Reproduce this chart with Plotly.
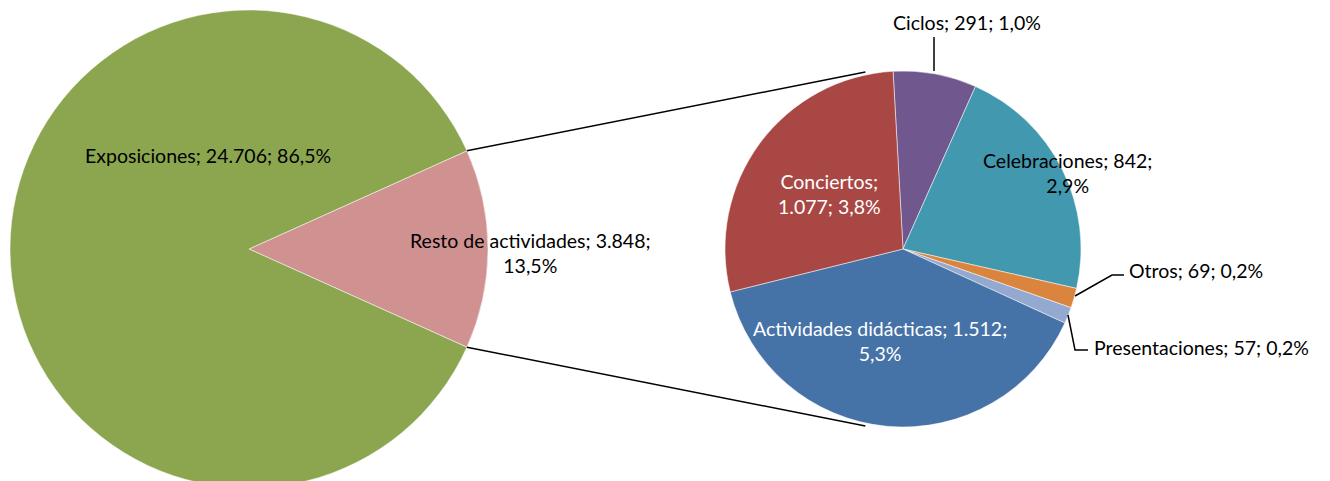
import math
import plotly.graph_objects as go

# ---- data ----
main_labels = ["Resto de actividades", "Exposiciones"]
main_values = [3848, 24706]
main_colors = ["#D09191", "#8BA64F"]

sub_labels = ["Ciclos", "Celebraciones", "Otros", "Presentaciones",
              "Actividades didácticas", "Conciertos"]
sub_values = [291, 842, 69, 57, 1512, 1077]
sub_colors = ["#70588F", "#4198AF", "#DB843D", "#93A9D0", "#4572A7", "#A94744"]

# ---- layout constants (screen pixels) ----
W, H = 1330, 481
OFF = 8  # default page body margin
L_CX, L_CY, L_R = 249, 249, 239
R_CX, R_CY, R_R = 903, 249, 178
R_ROT = -3.2

def px(x):
    return (x - OFF) / W

def py(y):
    return 1 - (y - OFF) / H

total = sum(main_values)

def fmt_int(v):
    return f"{v:,}".replace(",", ".")

def fmt_pct(v):
    return f"{100 * v / total:.1f}".replace(".", ",") + "%"

def label_text(name, v, brk):
    parts = [f"{name};", f"{fmt_int(v)};", fmt_pct(v)]
    if brk == 1:
        return parts[0] + "<br>" + parts[1] + " " + parts[2]
    if brk == 2:
        return parts[0] + " " + parts[1] + "<br>" + parts[2]
    return " ".join(parts)

frac_rest = main_values[0] / total
L_ROT = 90 - frac_rest * 360 / 2

fig = go.Figure()
fig.add_trace(go.Pie(
    labels=main_labels, values=main_values, sort=False, direction="clockwise",
    rotation=L_ROT, textinfo="none", hoverinfo="label+value+percent",
    marker=dict(colors=main_colors, line=dict(color="rgba(255,255,255,0.5)", width=1)),
    domain=dict(x=[px(L_CX - L_R), px(L_CX + L_R)], y=[py(L_CY + L_R), py(L_CY - L_R)]),
    showlegend=False,
))
fig.add_trace(go.Pie(
    labels=sub_labels, values=sub_values, sort=False, direction="clockwise",
    rotation=R_ROT, textinfo="none", hoverinfo="label+value+percent",
    marker=dict(colors=sub_colors, line=dict(color="rgba(255,255,255,0.5)", width=1)),
    domain=dict(x=[px(R_CX - R_R), px(R_CX + R_R)], y=[py(R_CY + R_R), py(R_CY - R_R)]),
    showlegend=False,
))

FONT = "Lato"
FS = 19.5
annotations = []
# label positions (screen pixel centers), line-break style, text color
main_pos = {"Exposiciones": (208, 155, 0, "black"),
            "Resto de actividades": (530, 253, 2, "black")}
sub_pos = {"Ciclos": (967, 22, 0, "black"),
           "Celebraciones": (1067, 173, 2, "black"),
           "Otros": (1196, 270, 0, "black"),
           "Presentaciones": (1201, 347, 0, "black"),
           "Actividades didácticas": (880, 341, 2, "white"),
           "Conciertos": (829, 194, 1, "white")}

def add_label(name, v, spec):
    x, y, b, c = spec
    annotations.append(dict(x=px(x), y=py(y), xref="paper", yref="paper",
                            xanchor="center", yanchor="middle", align="center",
                            text=label_text(name, v, b), showarrow=False,
                            font=dict(family=FONT, size=FS, color=c)))

for name, v in zip(main_labels, main_values):
    add_label(name, v, main_pos[name])
for name, v in zip(sub_labels, sub_values):
    add_label(name, v, sub_pos[name])

shapes = []
line = dict(color="black", width=1.5)

def pt(cx, cy, r, ang):
    a = math.radians(ang)
    return cx + r * math.sin(a), cy - r * math.cos(a)

# connector lines between the two pies
for la, ra in [(L_ROT, -12), (L_ROT + frac_rest * 360, 192)]:
    x0, y0 = pt(L_CX, L_CY, L_R, la)
    x1, y1 = pt(R_CX, R_CY, R_R + 3, ra)
    shapes.append(dict(type="line", xref="paper", yref="paper",
                       x0=px(x0), y0=py(y0), x1=px(x1), y1=py(y1), line=line))

# leader lines
def path(points):
    d = "M " + " L ".join(f"{px(a)},{py(b)}" for a, b in points)
    return dict(type="path", xref="paper", yref="paper", path=d, line=line)

shapes.append(path([(934, 37), (934, 71)]))
shapes.append(path([(1075, 296), (1112, 275), (1124, 275)]))
shapes.append(path([(1068, 315), (1075, 350), (1088, 350)]))

fig.update_layout(width=W, height=H, margin=dict(l=0, r=0, t=0, b=0),
                  paper_bgcolor="white", plot_bgcolor="white",
                  annotations=annotations, shapes=shapes)
fig.write_html("out.html")
